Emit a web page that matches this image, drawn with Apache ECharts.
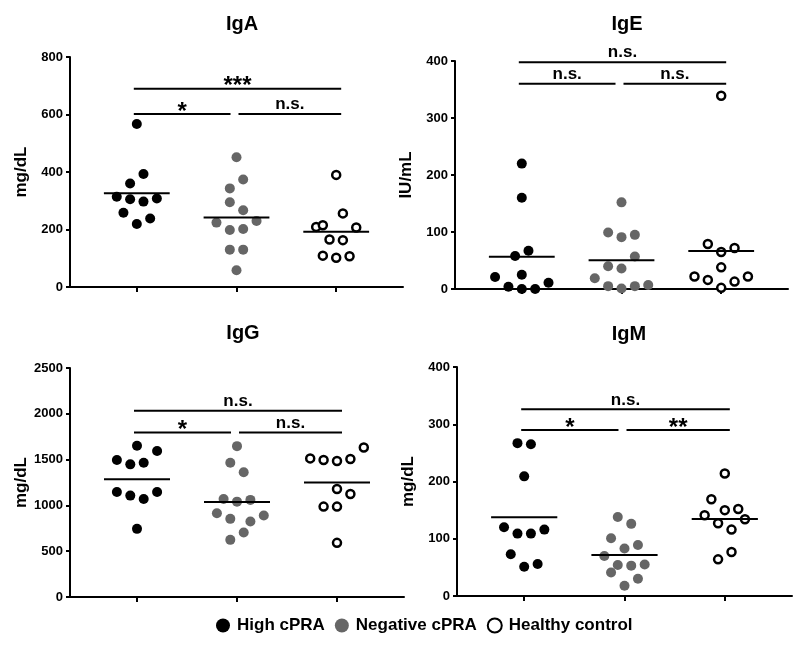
<!DOCTYPE html>
<html><head><meta charset="utf-8">
<script src="https://cdn.jsdelivr.net/npm/echarts@6/dist/echarts.min.js"></script>
<style>html,body{margin:0;padding:0;background:#fff}#c{width:800px;height:647px}</style>
</head><body><div id="c"></div>
<script>
// ---------- data ----------
const groups = ['High cPRA', 'Negative cPRA', 'Healthy control'];
const panelNames = ['IgA', 'IgE', 'IgG', 'IgM'];
const unitNames = ['mg/dL', 'IU/mL', 'mg/dL', 'mg/dL'];
const yMax = [800, 400, 2500, 400];
const yStep = [200, 100, 500, 100];

// IgA (mg/dL)
const igaHigh = [567, 393, 360, 314, 305, 297, 308, 258, 238, 219];
const igaHighSlot = [0, 1, -1, -3, -1, 1, 3, -2, 2, 0];
const igaNeg = [451, 374, 343, 295, 267, 224, 230, 198, 202, 130, 130, 58];
const igaNegSlot = [0, 1, -1, -1, 1, -3, 3, -1, 1, -1, 1, 0];
const igaHealthy = [390, 256, 209, 215, 207, 165, 163, 109, 102, 107];
const igaHealthySlot = [0, 1, -3, -2, 3, -1, 1, -2, 0, 2];
const igaSigLevel = [690, 602, 602];
const igaSigText = ['***', '*', 'n.s.'];

// IgE (IU/mL)
const igeHigh = [220, 160, 67, 58, 21, 25, 11, 4, 0, 0];
const igeHighSlot = [0, 0, 1, -1, -4, 0, 4, -2, 0, 2];
const igeNeg = [152, 99, 91, 95, 57, 40, 36, 19, 5, 5, 7, 1];
const igeNegSlot = [0, -2, 0, 2, 2, -2, 0, -4, -2, 2, 4, 0];
const igeHealthy = [339, 79, 65, 72, 38, 22, 16, 22, 13, 2];
const igeHealthySlot = [0, -2, 0, 2, 0, -4, -2, 4, 2, 0];
const igeSigLevel = [398, 360, 360];
const igeSigText = ['n.s.', 'n.s.', 'n.s.'];

// IgG (mg/dL)
const iggHigh = [1651, 1593, 1495, 1448, 1466, 1147, 1107, 1147, 1070, 744];
const iggHighSlot = [0, 3, -3, -1, 1, -3, -1, 3, 1, 0];
const iggNeg = [1647, 1466, 1361, 1070, 1041, 1060, 914, 853, 824, 889, 704, 624];
const iggNegSlot = [0, -1, 1, -2, 0, 2, -3, -1, 2, 4, 1, -1];
const iggHealthy = [1633, 1513, 1495, 1484, 1506, 1179, 1125, 987, 987, 591];
const iggHealthySlot = [4, -4, -2, 0, 2, 0, 2, -2, 0, 0];
const iggSigLevel = [2032, 1796, 1796];
const iggSigText = ['n.s.', '*', 'n.s.'];

// IgM (mg/dL)
const igmHigh = [267, 265, 209, 120, 109, 109, 116, 73, 56, 51];
const igmHighSlot = [-1, 1, 0, -3, -1, 1, 3, -2, 2, 0];
const igmNeg = [138, 126, 101, 89, 83, 70, 54, 53, 55, 41, 30, 18];
const igmNegSlot = [-1, 1, -2, 2, 0, -3, -1, 1, 3, -2, 2, 0];
const igmHealthy = [214, 169, 150, 152, 141, 127, 134, 116, 77, 64];
const igmHealthySlot = [0, -2, 0, 2, -3, -1, 3, 1, 1, -1];
const igmSigLevel = [326, 290, 290];
const igmSigText = ['n.s.', '*', '**'];

// comparisons (group indices) shared by all panels
const sigPairs = [[0, 2], [0, 1], [1, 2]];

// ---------- layout / style ----------
const FONT = '"Liberation Sans", Arial, sans-serif';
const SLOT = 0.067;       // horizontal jitter step in category units
const MEAN_HALF = 0.33;   // half length of mean bar
const grids = [
  { left: 70, top: 57, width: 333, height: 230 },
  { left: 455, top: 61, width: 333, height: 228 },
  { left: 70, top: 368, width: 334, height: 229 },
  { left: 457, top: 367, width: 335, height: 229 }
];
const titlePos = [[237, 9], [622, 9], [238, 318], [624, 319]];
const groupColors = ['#000000', '#666666', '#ffffff'];

const panelData = [
  [[igaHigh, igaHighSlot], [igaNeg, igaNegSlot], [igaHealthy, igaHealthySlot]],
  [[igeHigh, igeHighSlot], [igeNeg, igeNegSlot], [igeHealthy, igeHealthySlot]],
  [[iggHigh, iggHighSlot], [iggNeg, iggNegSlot], [iggHealthy, iggHealthySlot]],
  [[igmHigh, igmHighSlot], [igmNeg, igmNegSlot], [igmHealthy, igmHealthySlot]]
];
const panelSig = [
  [igaSigLevel, igaSigText], [igeSigLevel, igeSigText],
  [iggSigLevel, iggSigText], [igmSigLevel, igmSigText]
];

function barExtent(pair) {
  const a = pair[0], b = pair[1];
  const start = (a === 1) ? a + 1 + 0.02 : a + 1 - 0.03;
  const end = (b === 1) ? b + 1 - 0.06 : b + 1 + 0.05;
  return [start, end];
}

const series = [];
const xAxes = [], yAxes = [], titles = [];
panelNames.forEach((pn, p) => {
  xAxes.push({
    type: 'value', gridIndex: p, min: 0.33, max: 3.67,
    axisLine: { show: true, onZero: false, lineStyle: { color: '#000', width: 2 } },
    axisTick: { show: true, customValues: [1, 2, 3], length: 5, lineStyle: { color: '#000', width: 2 } },
    axisLabel: { show: false }, splitLine: { show: false }
  });
  yAxes.push({
    type: 'value', gridIndex: p, min: 0, max: yMax[p], interval: yStep[p],
    name: unitNames[p], nameLocation: 'middle', nameGap: 40,
    nameTextStyle: { fontFamily: FONT, fontWeight: 'bold', fontSize: 17, color: '#000' },
    axisLine: { show: true, lineStyle: { color: '#000', width: 2 } },
    axisTick: { show: true, length: 4, lineStyle: { color: '#000', width: 2 } },
    axisLabel: { fontFamily: FONT, fontWeight: 'bold', fontSize: 13, color: '#000', margin: 7,
      formatter: v => String(v) },
    splitLine: { show: false }
  });
  titles.push({
    text: pn, left: titlePos[p][0], top: titlePos[p][1], textAlign: 'center',
    textStyle: { fontFamily: FONT, fontWeight: 'bold', fontSize: 20, color: '#000' }
  });

  const meanData = [];
  panelData[p].forEach((gd, g) => {
    const vals = gd[0], slots = gd[1];
    const mean = vals.reduce((s, v) => s + v, 0) / vals.length;
    meanData.push([g + 1, mean]);
    series.push({
      type: 'scatter', name: groups[g], xAxisIndex: p, yAxisIndex: p,
      symbol: 'circle', symbolSize: g === 2 ? 8 : 10,
      itemStyle: g === 2
        ? { color: '#ffffff', borderColor: '#000', borderWidth: 2.5, opacity: 1 }
        : { color: groupColors[g], opacity: 1 },
      emphasis: { disabled: true },
      z: 3,
      data: vals.map((v, i) => [g + 1 + slots[i] * SLOT, v])
    });
  });

  series.push({
    type: 'custom', xAxisIndex: p, yAxisIndex: p, z: 4, silent: true,
    data: meanData,
    renderItem: (params, api) => {
      const x = api.value(0), y = api.value(1);
      const a = api.coord([x - MEAN_HALF, y]), b = api.coord([x + MEAN_HALF, y]);
      return { type: 'line', shape: { x1: a[0], y1: a[1], x2: b[0], y2: b[1] },
        style: { stroke: '#000', lineWidth: 2 } };
    }
  });

  const levels = panelSig[p][0], texts = panelSig[p][1];
  series.push({
    type: 'custom', xAxisIndex: p, yAxisIndex: p, z: 4, silent: true, clip: false,
    encode: { x: [0, 1], y: 2 },
    data: sigPairs.map((pr, i) => { const e = barExtent(pr); return [e[0], e[1], levels[i]]; }),
    renderItem: (params, api) => {
      const x1 = api.value(0), x2 = api.value(1), y = api.value(2);
      const a = api.coord([x1, y]), b = api.coord([x2, y]);
      const txt = texts[params.dataIndex];
      const star = txt.indexOf('*') >= 0;
      return { type: 'group', children: [
        { type: 'line', shape: { x1: a[0], y1: a[1], x2: b[0], y2: b[1] },
          style: { stroke: '#000', lineWidth: 2 } },
        { type: 'text', style: {
            text: txt, x: (a[0] + b[0]) / 2, y: a[1] + (star ? 10 : -1),
            align: 'center', verticalAlign: 'bottom', textAlign: 'center', textVerticalAlign: 'bottom',
            font: 'bold ' + (star ? 24 : 17) + 'px ' + FONT, fill: '#000' } }
      ] };
    }
  });
});

const chart = echarts.init(document.getElementById('c'), null, { renderer: 'canvas' });
chart.setOption({
  animation: false,
  backgroundColor: '#fff',
  title: titles,
  grid: grids.map(g => Object.assign({ containLabel: false, outerBoundsMode: 'none' }, g)),
  xAxis: xAxes,
  yAxis: yAxes,
  legend: {
    data: groups, left: 211, top: 612, icon: 'circle',
    itemWidth: 18, itemHeight: 14, itemGap: 10, selectedMode: false,
    textStyle: { fontFamily: FONT, fontWeight: 'bold', fontSize: 17, color: '#000' }
  },
  series: series
});
</script></body></html>
